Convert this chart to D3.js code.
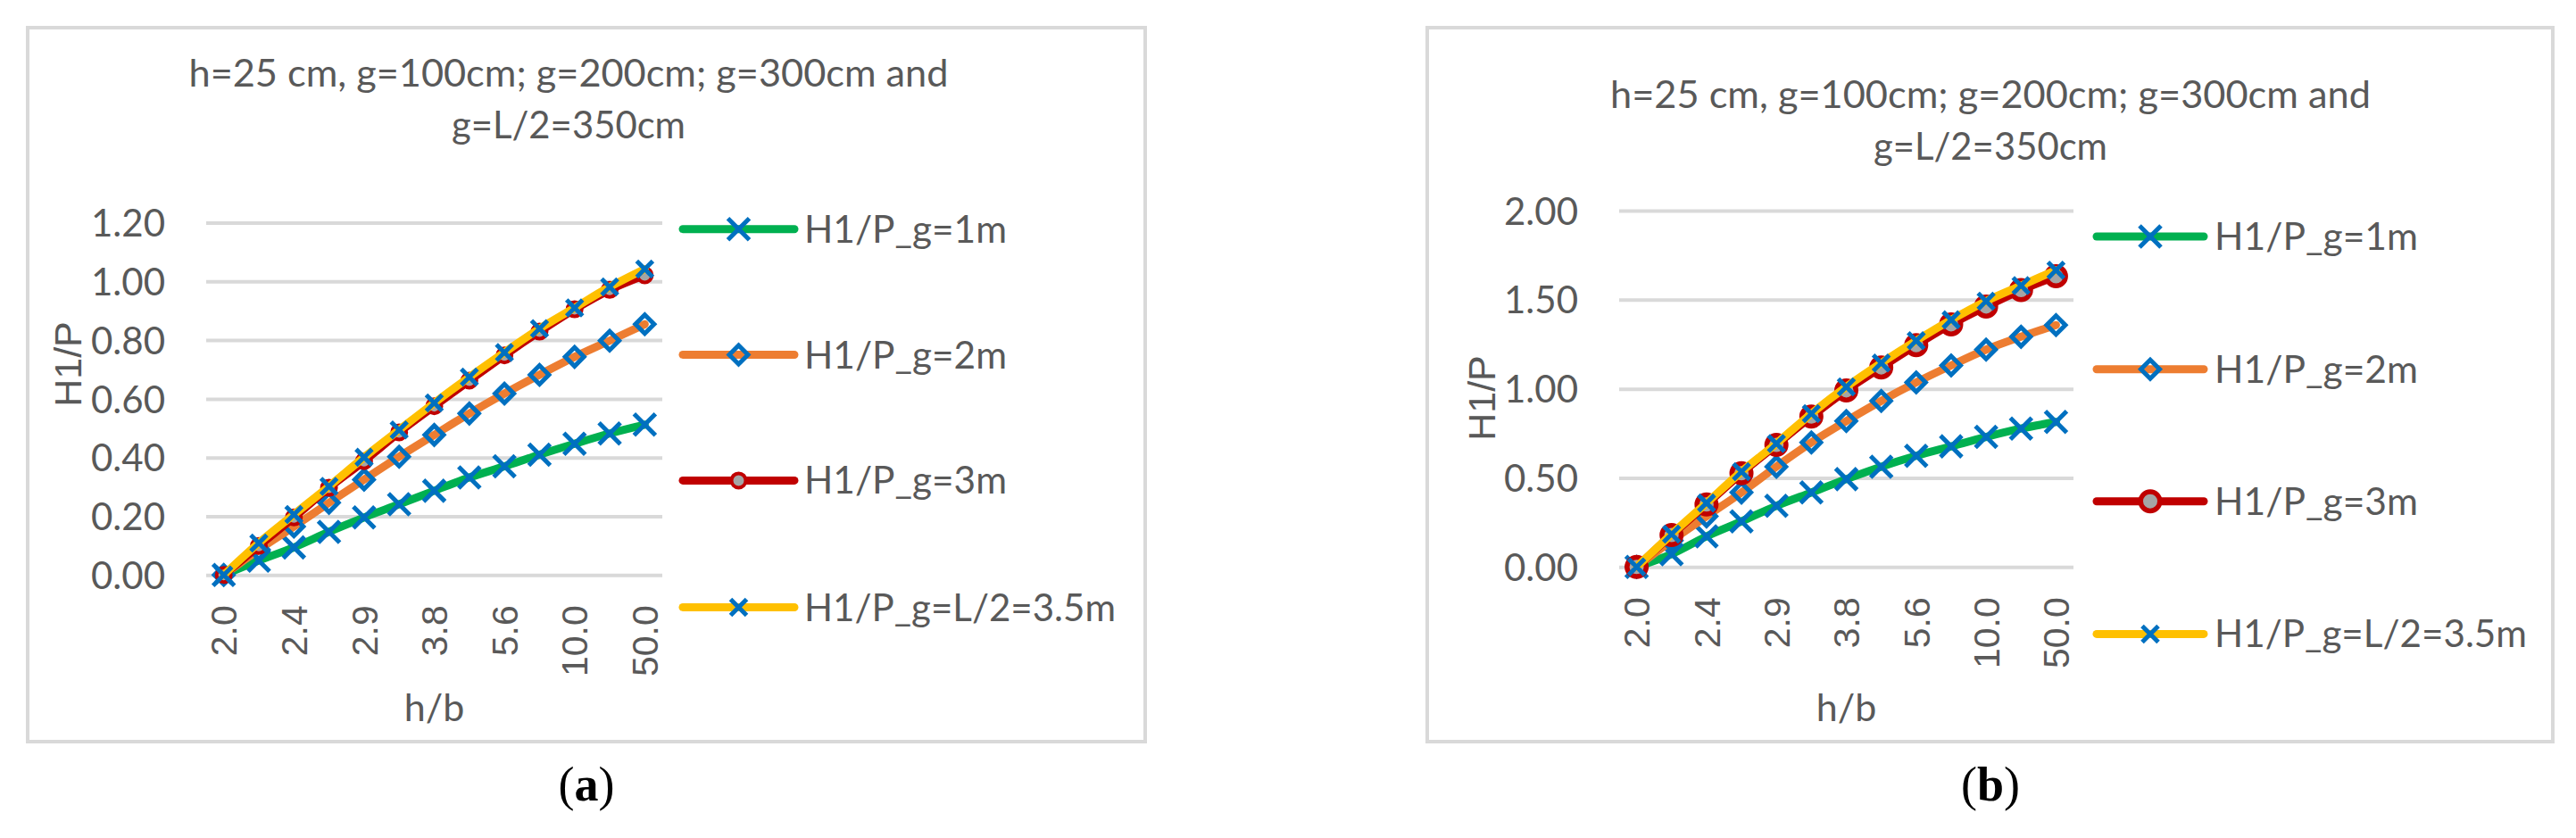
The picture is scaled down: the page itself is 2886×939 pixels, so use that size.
<!DOCTYPE html>
<html>
<head>
<meta charset="utf-8">
<script src="https://cdn.jsdelivr.net/npm/d3@7"></script>
<style>
  html, body { margin:0; padding:0; background:#ffffff; }
  svg { display:block; }
</style>
</head>
<body>
<svg id="chart" width="2886" height="939"></svg>
<script>

// --------------------------------
// data
// --------------------------------

var categories = ["2.0","2.2","2.4","2.6","2.9","3.3","3.8","4.5","5.6","7.1","10.0","16.7","50.0"];
var seriesNames = ["H1/P_g=1m","H1/P_g=2m","H1/P_g=3m","H1/P_g=L/2=3.5m"];
var titleLines = ["h=25 cm, g=100cm; g=200cm; g=300cm and","g=L/2=350cm"];

// panel (a)
var a_g1  = [0,0.049,0.094,0.147,0.196,0.241,0.287,0.332,0.370,0.410,0.447,0.482,0.512];
var a_g2  = [0,0.086,0.165,0.246,0.325,0.403,0.477,0.550,0.618,0.682,0.743,0.798,0.854];
var a_g3  = [0,0.099,0.196,0.297,0.388,0.486,0.575,0.662,0.748,0.829,0.905,0.971,1.021];
var a_g35 = [0,0.109,0.206,0.302,0.401,0.494,0.586,0.674,0.758,0.839,0.910,0.981,1.042];
var a_yTicks = [0,0.2,0.4,0.6,0.8,1.0,1.2];

// panel (b)
var b_g1  = [0,0.072,0.172,0.256,0.343,0.418,0.493,0.563,0.624,0.677,0.730,0.777,0.814];
var b_g2  = [0,0.148,0.284,0.418,0.563,0.699,0.819,0.932,1.036,1.131,1.220,1.292,1.358];
var b_g3  = [0,0.179,0.351,0.526,0.685,0.844,0.991,1.120,1.245,1.362,1.462,1.554,1.632];
var b_g35 = [0,0.184,0.359,0.535,0.693,0.861,1.011,1.145,1.270,1.387,1.492,1.579,1.666];
var b_yTicks = [0,0.5,1.0,1.5,2.0];

// --------------------------------
// styles
// --------------------------------

var szText = "#595959";
var szGrid = "#d9d9d9";
var szBlue = "#0070c0";
var lineColors = ["#00b050","#ed7d31","#c00000","#ffc000"];
var markerTypes = ["x","diamond","circle","xs"];
var szFont = "Lato, 'Open Sans', sans-serif";
var szFont2 = "'Liberation Sans', Arial, sans-serif";

var svg = d3.select("#chart");

// --------------------------------------------------
// draw one marker at (0,0) of the given group
// --------------------------------------------------

function drawMarker(g, szType, p){
	if (szType == "x" || szType == "xs"){
		var h = (szType == "x") ? 12 : 9;
		g.append("path")
			.attr("d","M"+(-h)+","+(-h)+"L"+h+","+h+"M"+(-h)+","+h+"L"+h+","+(-h))
			.attr("style","fill:none;stroke:"+szBlue+";stroke-width:5");
	}else if (szType == "diamond"){
		var h = 10.5;
		g.append("path")
			.attr("d","M0,"+(-h)+"L"+h+",0L0,"+h+"L"+(-h)+",0Z")
			.attr("style","fill:none;stroke:"+szBlue+";stroke-width:5");
	}else{
		g.append("circle")
			.attr("r",p.circleR)
			.attr("style","fill:#a5a5a5;stroke:#c00000;stroke-width:"+p.circleW);
	}
}

// --------------------------------------------------
// draw one panel
// --------------------------------------------------

function drawPanel(p){

	var g = svg.append("g");

	// frame
	g.append("rect")
		.attr("x",p.frame[0]).attr("y",p.frame[1])
		.attr("width",p.frame[2]-p.frame[0]).attr("height",p.frame[3]-p.frame[1])
		.attr("style","fill:#ffffff;stroke:"+szGrid+";stroke-width:4");

	var x = d3.scaleBand().domain(categories).range([p.x0,p.x1]).padding(0);
	var y = d3.scaleLinear().domain(p.yDomain).range([p.y0,p.y1]);
	var cx = function(i){ return x(categories[i]) + x.bandwidth()/2; };

	// gridlines + y tick labels
	var yAxis = g.append("g")
		.attr("transform","translate("+p.x0+",0)")
		.call(d3.axisLeft(y).tickValues(p.yTicks).tickSize(-(p.x1-p.x0)).tickPadding(46).tickFormat(d3.format(".2f")));
	yAxis.select(".domain").remove();
	yAxis.selectAll(".tick line").attr("stroke",szGrid).attr("stroke-width",4);
	yAxis.selectAll(".tick text")
		.attr("fill",szText)
		.attr("dy","0.36em")
		.style("font-family",szFont).style("font-size","42px");

	// x tick labels, every second category, rotated
	var xAxis = g.append("g")
		.attr("transform","translate(0,"+p.y0+")")
		.call(d3.axisBottom(x).tickValues(categories.filter(function(d,i){ return i%2==0; })).tickSize(0));
	xAxis.select(".domain").remove();
	xAxis.selectAll(".tick text")
		.attr("fill",szText)
		.attr("transform","rotate(-90)")
		.attr("x",-34).attr("y",0).attr("dy","0.36em")
		.style("text-anchor","end")
		.style("font-family",szFont2).style("font-size","41px");

	// series: line then markers
	p.series.forEach(function(values,k){
		var line = d3.line()
			.x(function(d,i){ return cx(i); })
			.y(function(d){ return y(d); })
			.curve(d3.curveCatmullRom.alpha(0.5));
		g.append("path")
			.datum(values)
			.attr("d",line)
			.attr("style","fill:none;stroke:"+lineColors[k]+";stroke-width:9;stroke-linejoin:round;stroke-linecap:round");
		values.forEach(function(v,i){
			var m = g.append("g").attr("transform","translate("+cx(i)+","+y(v)+")");
			drawMarker(m,markerTypes[k],p);
		});
	});

	// chart title
	titleLines.forEach(function(szLine,i){
		g.append("text")
			.attr("x",p.titleX).attr("y",p.titleY[i])
			.attr("textLength",p.titleLen[i]).attr("lengthAdjust","spacingAndGlyphs")
			.attr("style","font-family:"+szFont+";font-size:43px;fill:"+szText+";text-anchor:middle")
			.text(szLine);
	});

	// axis titles
	g.append("text")
		.attr("transform","translate("+p.yTitleX+","+p.yTitleY+") rotate(-90)")
		.attr("style","font-family:"+szFont2+";font-size:43px;fill:"+szText+";text-anchor:middle")
		.text("H1/P");
	g.append("text")
		.attr("x",(p.x0+p.x1)/2).attr("y",p.xTitleY)
		.attr("style","font-family:"+szFont+";font-size:43px;fill:"+szText+";text-anchor:middle")
		.text("h/b");

	// legend
	seriesNames.forEach(function(szName,k){
		var ly = p.legY[k];
		g.append("line")
			.attr("x1",p.legX0).attr("x2",p.legX1).attr("y1",ly).attr("y2",ly)
			.attr("style","stroke:"+lineColors[k]+";stroke-width:9;stroke-linecap:round");
		var m = g.append("g").attr("transform","translate("+((p.legX0+p.legX1)/2)+","+ly+")");
		drawMarker(m,markerTypes[k],p);
		g.append("text")
			.attr("x",p.legTX).attr("y",ly+15)
			.attr("textLength",p.legLen[k]).attr("lengthAdjust","spacingAndGlyphs")
			.attr("style","font-family:"+szFont+";font-size:43px;fill:"+szText)
			.text(szName);
	});

	// caption (a) / (b)
	var cap = g.append("text")
		.attr("x",p.capX).attr("y",897)
		.attr("style","font-family:'Liberation Serif','Times New Roman',serif;font-size:54px;fill:#000000;text-anchor:middle");
	cap.append("tspan").text("(");
	cap.append("tspan").attr("font-weight","bold").text(p.capText);
	cap.append("tspan").text(")");
}

// --------------------------------------------------
// the two panels
// --------------------------------------------------

drawPanel({
	frame:[31,31,1283,831],
	x0:231, x1:742, y0:644.3, y1:249.5,
	yDomain:[0,1.2], yTicks:a_yTicks,
	series:[a_g1,a_g2,a_g3,a_g35],
	titleX:637, titleY:[97,155], titleLen:[851,262],
	yTitleX:91, yTitleY:408, xTitleY:808,
	legX0:765, legX1:890, legTX:901, legY:[256.7,397.5,538.4,680.5], legLen:[227,227,227,349],
	circleR:8, circleW:4,
	capX:657, capText:"a"
});

drawPanel({
	frame:[1599,31,2860,831],
	x0:1814, x1:2323, y0:635.3, y1:236,
	yDomain:[0,2.0], yTicks:b_yTicks,
	series:[b_g1,b_g2,b_g3,b_g35],
	titleX:2230, titleY:[121,179], titleLen:[852,262],
	yTitleX:1675, yTitleY:446, xTitleY:808,
	legX0:2349, legX1:2469, legTX:2481, legY:[265,413.7,561.7,710.4], legLen:[228,228,228,350],
	circleR:10.75, circleW:5.5,
	capX:2230, capText:"b"
});

</script>
</body>
</html>
